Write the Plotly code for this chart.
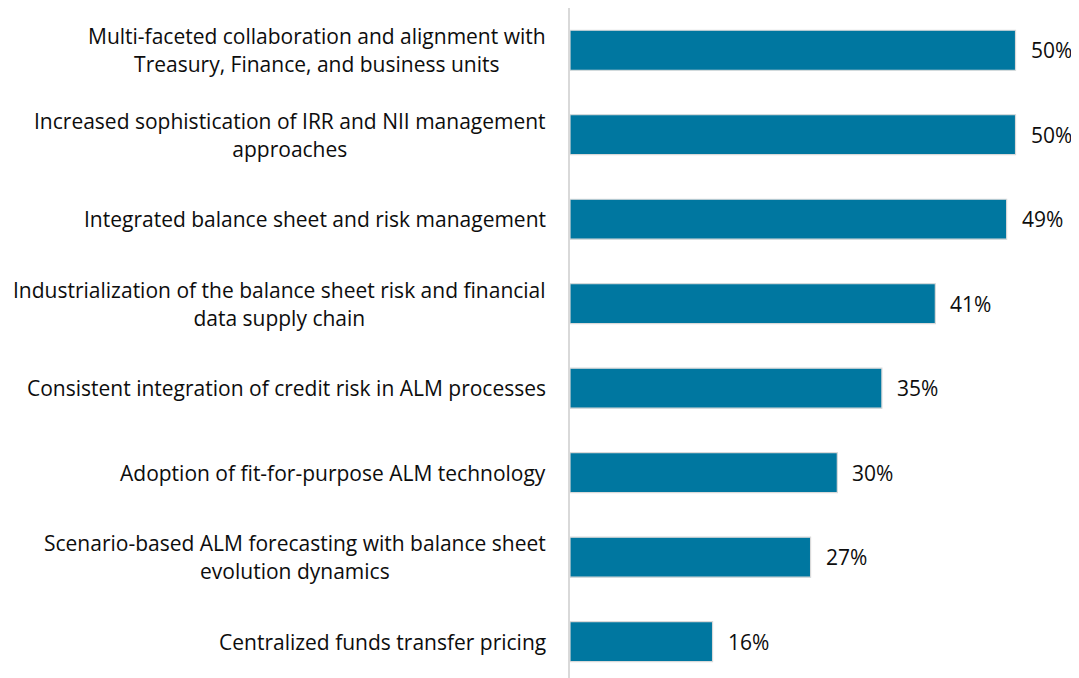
import plotly.graph_objects as go

categories = [
    "Multi-faceted collaboration and alignment with<br>Treasury, Finance, and business units",
    "Increased sophistication of IRR and NII management<br>approaches",
    "Integrated balance sheet and risk management",
    "Industrialization of the balance sheet risk and financial<br>data supply chain",
    "Consistent integration of credit risk in ALM processes",
    "Adoption of fit-for-purpose ALM technology",
    "Scenario-based ALM forecasting with balance sheet<br>evolution dynamics",
    "Centralized funds transfer pricing",
]
values = [50, 50, 49, 41, 35, 30, 27, 16]
value_labels = ["50%", "50%", "49%", "41%", "35%", "30%", "27%", "16%"]

FONT = "Open Sans"
FS = 21
TXT = "#0d0d0d"
BAR = "#0077A0"
HALF_GAP = 14  # half distance between wrapped lines (px)

fig = go.Figure()
fig.add_trace(go.Bar(
    y=categories, x=values, orientation="h",
    marker=dict(color=BAR, line=dict(color="#D9D9D9", width=1.2)),
    width=0.473, hoverinfo="skip",
))

annotations = []
font = dict(family=FONT, size=FS, color=TXT)
for c, v, t in zip(categories, values, value_labels):
    lines = c.split("<br>")
    if len(lines) == 1:
        annotations.append(dict(
            x=0, xref="paper", y=c, yref="y", text=c, showarrow=False,
            xanchor="right", yanchor="middle", xshift=-22, font=font,
        ))
    else:
        annotations.append(dict(
            x=0, xref="paper", y=c, yref="y", text=lines[0], showarrow=False,
            xanchor="right", yanchor="middle", xshift=-22, yshift=HALF_GAP,
            font=font,
        ))
        # second line centred under the first: an invisible copy of the first
        # line (placed below) sets the block width so "center" aligns them
        hidden = lines[1] + "<br><span style='color:rgba(0,0,0,0)'>" + lines[0] + "</span>"
        annotations.append(dict(
            x=0, xref="paper", y=c, yref="y", text=hidden, showarrow=False,
            xanchor="right", yanchor="middle", align="center", xshift=-22,
            yshift=-(HALF_GAP + 0.65 * FS), font=font,
        ))
    annotations.append(dict(
        x=v, xref="x", y=c, yref="y", text=t, showarrow=False,
        xanchor="left", yanchor="middle", xshift=13, font=font,
    ))

fig.update_layout(
    width=1071, height=670,
    margin=dict(l=562, r=9.5, t=0, b=0),
    paper_bgcolor="white", plot_bgcolor="white",
    showlegend=False,
    annotations=annotations,
    xaxis=dict(range=[0, 56], visible=False, showgrid=False, zeroline=False),
    yaxis=dict(type="category", categoryorder="array", categoryarray=categories,
               range=[7.43, -0.5], showticklabels=False, showgrid=False,
               zeroline=False, showline=True, linecolor="#D9D9D9", linewidth=2,
               ticks=""),
)

fig.write_html("out.html")
